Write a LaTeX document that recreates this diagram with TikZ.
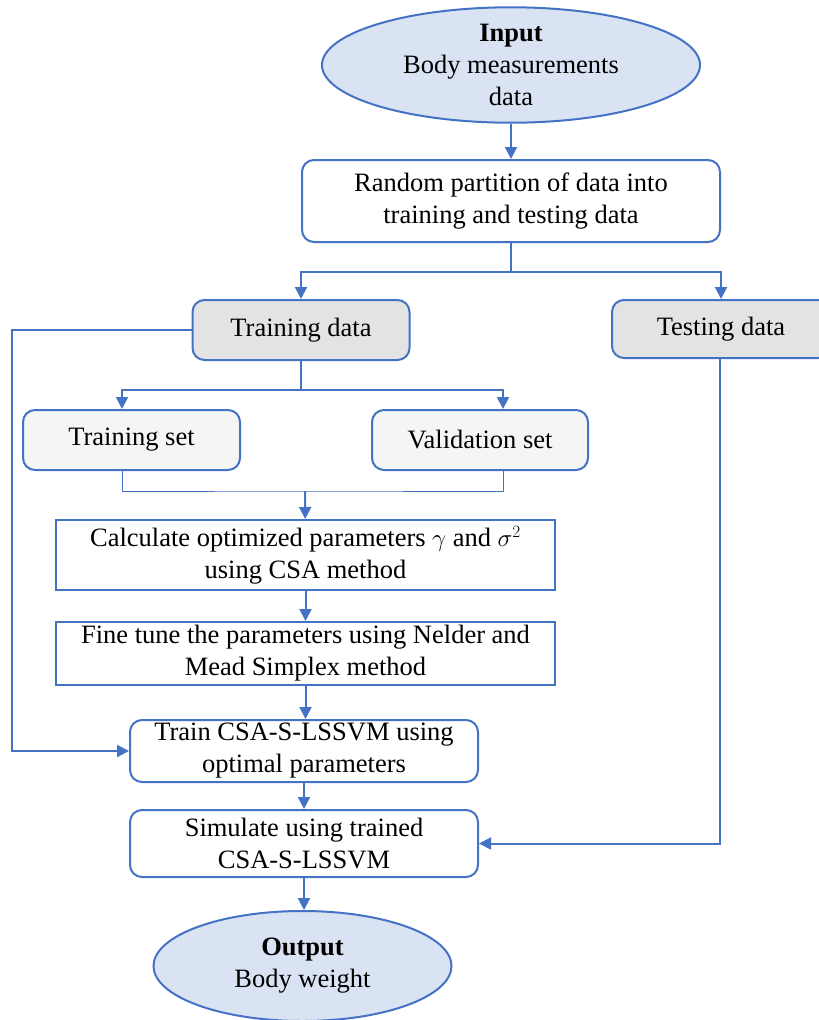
\documentclass[tikz,border=0pt]{standalone}
\usepackage{fontspec}
\setmainfont{Liberation Serif}
\usetikzlibrary{arrows.meta,shapes.geometric}
\definecolor{flowblue}{HTML}{4472C4}
\definecolor{ovalfill}{HTML}{DAE3F3}
\definecolor{grayfill}{HTML}{E3E3E3}
\definecolor{setfill}{HTML}{F4F6F6}
\begin{document}
\begin{tikzpicture}[x=1pt,y=-1pt,
  every node/.style={font=\fontsize{26.5}{32}\selectfont, align=center, inner sep=0pt},
  oval/.style={ellipse, draw=flowblue, line width=2pt, fill=ovalfill, minimum width=378pt, minimum height=110pt},
  rbox/.style={rectangle, rounded corners=12pt, draw=flowblue, line width=2pt, fill=white},
  sbox/.style={rectangle, draw=flowblue, line width=2pt, fill=white},
  link/.style={draw=flowblue, line width=2pt},
  arr/.style={link, -{Triangle[length=12pt,width=12pt]}},
  thinlink/.style={draw=flowblue, line width=1pt}]
\useasboundingbox (0,0) rectangle (819,1020);
\node[oval] (in) at (511,65) {\textbf{Input}\\Body measurements\\data};
\node[rbox, minimum width=418pt, minimum height=82pt] (part) at (511,201) {Random partition of data into\\training and testing data};
\node[rbox, fill=grayfill, minimum width=217pt, minimum height=60pt] (trdata) at (301,330) {Training data};
\node[rbox, fill=grayfill, minimum width=218pt, minimum height=58pt] (tsdata) at (721,329) {Testing data};
\node[rbox, fill=setfill, minimum width=217pt, minimum height=60pt] (trset) at (131.5,440) {Training set};
\node[rbox, fill=setfill, minimum width=216pt, minimum height=60pt] (valset) at (480,440) {Validation set};
\node[sbox, minimum width=499pt, minimum height=70pt] (calc) at (305.5,555) {Calculate optimized parameters $\gamma$ and $\sigma^{2}$\\using CSA method};
\node[sbox, minimum width=499pt, minimum height=63pt] (tune) at (305.5,653.5) {Fine tune the parameters using Nelder and\\Mead Simplex method};
\node[rbox, minimum width=348pt, minimum height=62pt] (train) at (304,751) {Train CSA-S-LSSVM using\\optimal parameters};
\node[rbox, minimum width=348pt, minimum height=67pt] (sim) at (304,843.5) {Simulate using trained\\CSA-S-LSSVM};
\node[oval, minimum width=298pt] (out) at (302.5,966) {\textbf{Output}\\Body weight};
\coordinate (sp1) at (511,272);
\coordinate (sp2) at (301,390);
\coordinate (mg) at (305,491);
\coordinate (fb) at (12,330);
\draw[arr] (in) -- (part);
\draw[link] (part) -- (sp1);
\draw[arr] (sp1) -| (trdata);
\draw[arr] (sp1) -| (tsdata);
\draw[arr] (trdata.west) -- (fb) |- (train.west);
\draw[link] (trdata) -- (sp2);
\draw[arr] (sp2) -| ([xshift=-9.5pt]trset.north);
\draw[arr] (sp2) -| ([xshift=23pt]valset.north);
\draw[thinlink] ([xshift=-9.5pt]trset.south) |- (mg) -| ([xshift=23pt]valset.south);
\draw[arr] (mg) -- (calc);
\draw[arr] (calc) -- (tune);
\draw[arr] (tune) -- (tune |- train.north);
\draw[arr] (train) -- (sim);
\draw[arr] (tsdata.south -| 720,0) |- (sim.east);
\draw[arr] (sim) -- (sim |- out.north);
\end{tikzpicture}
\end{document}
